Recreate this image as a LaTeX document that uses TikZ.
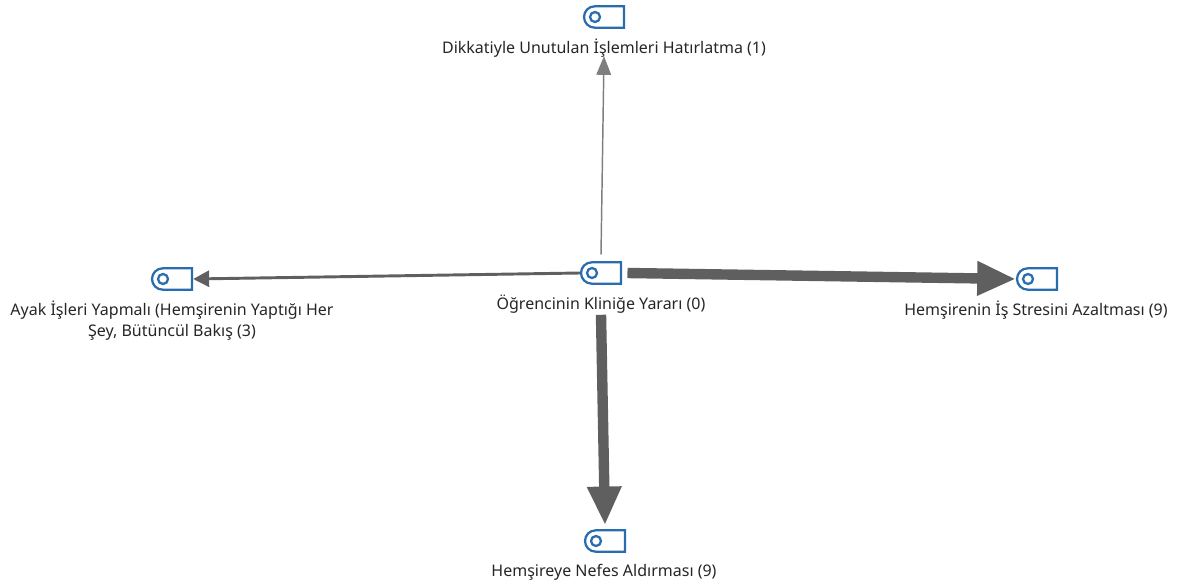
\documentclass[tikz,border=0pt]{standalone}
\usepackage{fontspec}
\setmainfont{Noto Sans}
\usetikzlibrary{shapes.misc, arrows.meta}
\definecolor{tagblue}{HTML}{2A6DAE}
\definecolor{linkgrey}{HTML}{5F5F5F}
\tikzstyle{arrow} = [linkgrey,line width=2.2pt,-{Triangle[length=12pt,width=12pt]}]
\tikzstyle{thinarrow} = [arrow,draw=linkgrey!80,line width=1.1pt,-{Triangle[length=14pt,width=11pt]}]
\tikzstyle{fatarrow} = [arrow,line width=7.8pt,-{Triangle[length=29pt,width=24pt]}]
\begin{document}
\begin{tikzpicture}
        [
            x=0.75pt,y=-0.75pt,
            tag/.style={rounded rectangle,rounded rectangle right arc=none,draw=tagblue,line width=1.7pt,
                fill=white,minimum width=30pt,minimum height=16pt,inner sep=0pt},
            tagdot/.style={circle,draw=tagblue,line width=1.7pt,minimum size=7.5pt,inner sep=0pt},
            lbl/.style={font=\fontsize{12pt}{15.8pt}\selectfont,text=black!85,align=center,inner sep=0pt},
        ]
    \useasboundingbox (0,0) rectangle (1178,588);

    \foreach \x/\y/\n in {601/273/ogr,604/17/dik,172/279/ayak,1037/279/stres,605/541/nefes}{
        \node[tag] (\n) at (\x,\y){};
        \node[tagdot] (\n dot) at (\x-9,\y){};
    }

    \node[lbl] (ogrl) at (601,304){Öğrencinin Kliniğe Yararı (0)};
    \node[lbl] (dikl) at (604,48){Dikkatiyle Unutulan İşlemleri Hatırlatma (1)};
    \node[lbl] (ayakl) at (172,321){Ayak İşleri Yapmalı (Hemşirenin Yaptığı Her\\Şey, Bütüncül Bakış (3)};
    \node[lbl] (stresl) at (1036,310){Hemşirenin İş Stresini Azaltması (9)};
    \node[lbl] (nefesl) at (604,572){Hemşireye Nefes Aldırması (9)};

    \draw[thinarrow] ([yshift=5pt]ogr.north) -- ([yshift=1pt]dikl.south);
    \draw[arrow] (ogr.west) -- (ayak.east);
    \draw[fatarrow] ([xshift=4pt]ogr.east) -- (stres.west);
    \draw[fatarrow] ([yshift=-1pt]ogrl.south) -- ([yshift=3pt]nefes.north);
    \end{tikzpicture}
\end{document}
